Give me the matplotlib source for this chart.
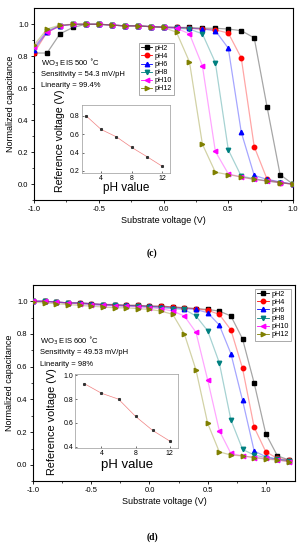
import numpy as np
import matplotlib
matplotlib.use("Agg")
import matplotlib.pyplot as plt

plt.rcParams['font.family'] = ['Liberation Sans', 'DejaVu Sans']

# ---- panel (c): WO3 EIS 500 C ----
v_c = np.round(np.arange(-1.0, 1.001, 0.1), 2)
cap_c = {
    'pH2':  [0.82, 0.82, 0.94, 0.98, 1.00, 1.00, 0.995, 0.99, 0.99, 0.985, 0.985,
             0.98, 0.98, 0.975, 0.975, 0.97, 0.96, 0.915, 0.48, 0.06, 0.00],
    'pH4':  [0.82, 0.95, 0.99, 1.00, 1.00, 1.00, 0.995, 0.99, 0.99, 0.985, 0.98,
             0.98, 0.975, 0.97, 0.965, 0.945, 0.79, 0.235, 0.03, 0.01, 0.00],
    'pH6':  [0.84, 0.95, 0.99, 1.00, 1.00, 1.00, 0.995, 0.99, 0.99, 0.985, 0.98,
             0.98, 0.975, 0.97, 0.96, 0.85, 0.325, 0.055, 0.03, 0.015, 0.00],
    'pH8':  [0.85, 0.96, 0.99, 1.00, 1.00, 1.00, 0.995, 0.99, 0.99, 0.985, 0.98,
             0.975, 0.97, 0.94, 0.76, 0.215, 0.05, 0.035, 0.02, 0.01, 0.00],
    'pH10': [0.86, 0.95, 0.99, 1.00, 1.00, 1.00, 0.995, 0.99, 0.99, 0.985, 0.98,
             0.975, 0.94, 0.74, 0.205, 0.065, 0.045, 0.03, 0.02, 0.01, 0.00],
    'pH12': [0.87, 0.97, 0.995, 1.00, 1.00, 1.00, 0.995, 0.99, 0.99, 0.985, 0.98,
             0.95, 0.765, 0.25, 0.075, 0.06, 0.045, 0.03, 0.02, 0.01, 0.00],
}
ph_c = [2, 4, 6, 8, 10, 12]
vref_c = [0.80, 0.65, 0.57, 0.455, 0.355, 0.25]

# ---- panel (d): WO3 EIS 600 C ----
v_d = np.round(np.arange(-1.0, 1.201, 0.1), 2)
cap_d = {
    'pH2':  [1.00, 1.00, 0.995, 0.99, 0.99, 0.985, 0.98, 0.98, 0.975, 0.975, 0.97,
             0.97, 0.965, 0.96, 0.955, 0.95, 0.94, 0.91, 0.77, 0.50, 0.19, 0.055, 0.03],
    'pH4':  [1.00, 1.00, 0.995, 0.99, 0.99, 0.985, 0.98, 0.98, 0.975, 0.975, 0.97,
             0.97, 0.965, 0.96, 0.955, 0.945, 0.92, 0.825, 0.59, 0.23, 0.08, 0.04, 0.03],
    'pH6':  [1.00, 1.00, 0.995, 0.99, 0.99, 0.985, 0.98, 0.975, 0.975, 0.97, 0.97,
             0.965, 0.96, 0.955, 0.95, 0.93, 0.855, 0.68, 0.395, 0.085, 0.05, 0.035, 0.025],
    'pH8':  [1.00, 1.00, 0.995, 0.99, 0.985, 0.98, 0.975, 0.975, 0.97, 0.97, 0.965,
             0.96, 0.955, 0.95, 0.91, 0.82, 0.625, 0.275, 0.095, 0.06, 0.045, 0.035, 0.025],
    'pH10': [1.00, 1.00, 0.995, 0.99, 0.985, 0.98, 0.975, 0.97, 0.97, 0.965, 0.96,
             0.955, 0.94, 0.91, 0.81, 0.52, 0.21, 0.07, 0.055, 0.045, 0.04, 0.03, 0.02],
    'pH12': [0.995, 0.99, 0.985, 0.98, 0.975, 0.97, 0.965, 0.96, 0.96, 0.955, 0.95,
             0.94, 0.92, 0.80, 0.58, 0.255, 0.08, 0.06, 0.055, 0.045, 0.035, 0.03, 0.02],
}
ph_d = [2, 4, 6, 8, 10, 12]
vref_d = [0.93, 0.85, 0.80, 0.655, 0.537, 0.448]

styles = {
    'pH2':  ('#000000', 's'),
    'pH4':  ('#ff0000', 'o'),
    'pH6':  ('#0000ff', '^'),
    'pH8':  ('#008080', 'v'),
    'pH10': ('#ff00ff', '<'),
    'pH12': ('#808000', '>'),
}


def main_panel(ax, v, caps, xlim, xticks, lines, leg_anchor):
    for name, ys in caps.items():
        col, mk = styles[name]
        ax.plot(v, ys, color=col, alpha=0.35, lw=0.9, zorder=2)
        ax.plot(v, ys, ls='none', marker=mk, ms=3.2, color=col, mec=col,
                label=name, zorder=3)
    ax.set_xlim(*xlim)
    ax.set_ylim(-0.1, 1.1)
    ax.set_xticks(xticks)
    ax.set_xticklabels([f'{t:.1f}' for t in xticks])
    ax.set_xticks(np.arange(xlim[0] + 0.25, xlim[1], 0.5), minor=True)
    ax.set_yticks([0.0, 0.2, 0.4, 0.6, 0.8, 1.0])
    ax.set_yticks([-0.1, 0.1, 0.3, 0.5, 0.7, 0.9], minor=True)
    ax.tick_params(labelsize=5.5, length=2.5, width=0.6, direction='out', pad=1.5)
    ax.tick_params(which='minor', length=1.5, width=0.5)
    ax.set_xlabel('Substrate voltage (V)', fontsize=6.5, labelpad=2)
    ax.set_ylabel('Normalized capacitance', fontsize=6.5, labelpad=2)
    for s in ax.spines.values():
        s.set_linewidth(0.8)
    leg = ax.legend(fontsize=5.2, loc='upper left', bbox_to_anchor=leg_anchor,
                    handlelength=1.6, handletextpad=0.3, labelspacing=0.15,
                    borderpad=0.3, fancybox=False, edgecolor='#888888',
                    framealpha=1)
    for h in leg.legend_handles:
        h.set_linestyle('-')
        h.set_linewidth(0.6)
    leg.get_frame().set_linewidth(0.5)
    for i, t in enumerate(lines):
        ax.text(0.027, 0.715 - i * 0.06, t, transform=ax.transAxes, fontsize=5.5,
                va='center', ha='left')


def inset_panel(ax, ph, vref, xlim, ylim, yticks, fs, ylab_xy, xlab_xy):
    ax.plot(ph, vref, color='#f08080', lw=0.5)
    ax.plot(ph, vref, ls='none', marker='s', ms=1.2, color='#333333')
    ax.set_xlim(*xlim)
    ax.set_ylim(*ylim)
    ax.set_xticks([4, 8, 12])
    ax.set_yticks(yticks)
    ax.tick_params(labelsize=5, length=1.5, width=0.4, direction='in', pad=1.5)
    ax.set_xlabel('pH value', fontsize=fs[1])
    ax.set_ylabel('Reference voltage (V)', fontsize=fs[0])
    ax.yaxis.set_label_coords(*ylab_xy)
    ax.xaxis.set_label_coords(*xlab_xy)
    for s in ax.spines.values():
        s.set_linewidth(0.5)
        s.set_color('#999999')


fig = plt.figure(figsize=(3.04, 5.5), dpi=100)

ax_c = fig.add_axes([0.112, 0.636, 0.852, 0.349])
main_panel(ax_c, v_c, cap_c, (-1.0, 1.0), [-1.0, -0.5, 0.0, 0.5, 1.0],
           ['WO$_3$ EIS 500 $^{\\circ}$C', 'Sensitivity = 54.3 mV/pH',
            'Linearity = 99.4%'], (0.39, 0.84))
ins_c = fig.add_axes([0.270, 0.6855, 0.289, 0.1236])
inset_panel(ins_c, ph_c, vref_c, (1.5, 13), (0.178, 0.916), [0.2, 0.4, 0.6, 0.8],
            (7.6, 8.5), (-0.19, 0.48), (0.5, -0.14))
fig.text(0.5, 1 - 253 / 550, '(c)', fontsize=7, ha='center', va='center',
         family='Liberation Serif', weight='bold')

ax_d = fig.add_axes([0.109, 0.125, 0.861, 0.357])
main_panel(ax_d, v_d, cap_d, (-1.0, 1.25), [-1.0, -0.5, 0.0, 0.5, 1.0],
           ['WO$_3$ EIS 600 $^{\\circ}$C', 'Sensitivity = 49.53 mV/pH',
            'Linearity = 98%'], (0.835, 1.0))
ins_d = fig.add_axes([0.247, 0.1855, 0.339, 0.1345])
inset_panel(ins_d, ph_d, vref_d, (0.9, 13), (0.389, 1.012), [0.4, 0.6, 0.8, 1.0],
            (7.8, 9.5), (-0.175, 0.35), (0.5, -0.15))
fig.text(0.5, 1 - 537 / 550, '(d)', fontsize=7, ha='center', va='center',
         family='Liberation Serif', weight='bold')

fig.savefig('out.png', dpi=100)
